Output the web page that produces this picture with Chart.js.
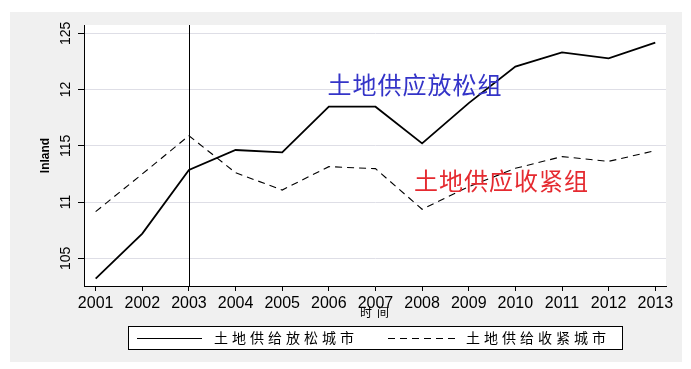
<!DOCTYPE html>
<html>
<head>
<meta charset="utf-8">
<script src="https://cdn.jsdelivr.net/npm/chart.js@4.4.0/dist/chart.umd.min.js"></script>
<style>
  html, body { margin: 0; padding: 0; background: #fff; }
  #wrap { width: 691px; height: 369px; }
</style>
</head>
<body>
<div id="wrap"><canvas id="c" width="691" height="369"></canvas></div>
<script>
// data
const years = [2001, 2002, 2003, 2004, 2005, 2006, 2007, 2008, 2009, 2010, 2011, 2012, 2013];
const looseCities = [10.32, 10.72, 11.285, 11.463, 11.442, 11.848, 11.848, 11.522, 11.88, 12.204, 12.331, 12.278, 12.417];
const tightCities = [10.915, 11.25, 11.59, 11.261, 11.107, 11.315, 11.297, 10.936, 11.137, 11.30, 11.404, 11.362, 11.457];
const yTickValues = [10.5, 11, 11.5, 12, 12.5];
const yTickLabels = ['105', '11', '115', '12', '125'];
const seriesNames = ['土地供给放松城市', '土地供给收紧城市'];
const noteTexts = ['土地供应放松组', '土地供应收紧组'];
const xTitle = '时间';
const yTitle = 'lnland';
const policyYear = 2003;

const cjk = '"Noto Sans CJK SC", sans-serif';

// background, vertical line, labels, legend
const decor = {
    id: 'decor',
    beforeDraw(chart) {
        const { ctx, chartArea: a } = chart;
        ctx.save();
        ctx.fillStyle = '#f0f0f0';
        ctx.fillRect(10, 12, 672, 350);
        ctx.fillStyle = '#ffffff';
        ctx.fillRect(a.left, a.top, a.right - a.left, a.bottom - a.top);
        ctx.restore();
    },
    afterDatasetsDraw(chart) {
        const { ctx, chartArea: a, scales: { x, y } } = chart;
        ctx.save();

        // policy year line
        const px = Math.round(x.getPixelForValue(policyYear)) + 0.5;
        ctx.strokeStyle = '#000';
        ctx.lineWidth = 1;
        ctx.beginPath();
        ctx.moveTo(px, a.top);
        ctx.lineTo(px, a.bottom);
        ctx.stroke();

        // group notes
        ctx.font = '24px ' + cjk;
        ctx.letterSpacing = '1px';
        ctx.textAlign = 'center';
        ctx.textBaseline = 'middle';
        ctx.fillStyle = '#3434c8';
        ctx.fillText(noteTexts[0], x.getPixelForValue(2007.85), y.getPixelForValue(12.04));
        ctx.fillStyle = '#e52a30';
        ctx.fillText(noteTexts[1], x.getPixelForValue(2009.7), y.getPixelForValue(11.185));
        ctx.letterSpacing = '0px';

        // y tick labels, rotated
        ctx.fillStyle = '#000';
        ctx.font = '14px "Liberation Sans", Arial, sans-serif';
        yTickValues.forEach((v, i) => {
            ctx.save();
            ctx.translate(66, y.getPixelForValue(v));
            ctx.rotate(-Math.PI / 2);
            ctx.fillText(yTickLabels[i], 0, 0);
            ctx.restore();
        });

        // y title
        ctx.save();
        ctx.font = 'bold 12px "Liberation Sans", Arial, sans-serif';
        ctx.translate(46, (a.top + a.bottom) / 2);
        ctx.rotate(-Math.PI / 2);
        ctx.fillText(yTitle, 0, 0);
        ctx.restore();

        // x title
        ctx.font = '12px ' + cjk;
        ctx.letterSpacing = '5px';
        ctx.fillText(xTitle, (a.left + a.right) / 2 + 2, 312);

        // legend
        ctx.letterSpacing = '0px';
        ctx.fillStyle = '#fff';
        ctx.fillRect(128.5, 326.5, 494, 23);
        ctx.strokeStyle = '#000';
        ctx.lineWidth = 1;
        ctx.strokeRect(128.5, 326.5, 494, 23);

        const ly = 338;
        const items = [
            { x0: 137, x1: 202, tx: 214 },
            { x0: 388, x1: 456, tx: 466 }
        ];
        chart.data.datasets.forEach((ds, i) => {
            const it = items[i];
            ctx.strokeStyle = ds.borderColor;
            ctx.lineWidth = 1.2;
            ctx.setLineDash(ds.borderDash || []);
            ctx.beginPath();
            ctx.moveTo(it.x0, ly + 0.5);
            ctx.lineTo(it.x1, ly + 0.5);
            ctx.stroke();
            ctx.setLineDash([]);
            ctx.fillStyle = '#000';
            ctx.font = '14px ' + cjk;
            ctx.letterSpacing = '4px';
            ctx.textAlign = 'left';
            ctx.fillText(seriesNames[i], it.tx, ly);
        });
        ctx.restore();
    }
};

new Chart(document.getElementById('c'), {
    type: 'line',
    data: {
        datasets: [
            {
                label: seriesNames[0],
                data: years.map((yr, i) => ({ x: yr, y: looseCities[i] })),
                borderColor: '#000',
                borderWidth: 1.8,
                pointRadius: 0,
                tension: 0,
                fill: false
            },
            {
                label: seriesNames[1],
                data: years.map((yr, i) => ({ x: yr, y: tightCities[i] })),
                borderColor: '#000',
                borderWidth: 1.1,
                borderDash: [7, 5],
                pointRadius: 0,
                tension: 0,
                fill: false
            }
        ]
    },
    options: {
        responsive: false,
        animation: false,
        layout: { padding: { left: 0, right: 25, top: 25, bottom: 60 } },
        plugins: {
            legend: { display: false },
            tooltip: { enabled: false }
        },
        scales: {
            x: {
                type: 'linear',
                min: 2000.75,
                max: 2013.23,
                afterBuildTicks: s => { s.ticks = years.map(v => ({ value: v })); },
                afterFit: s => { s.height = 23; },
                grid: { drawOnChartArea: false, drawTicks: true, tickLength: 5, tickColor: '#000' },
                border: { display: true, color: '#000', width: 1 },
                ticks: {
                    color: '#000',
                    padding: 3,
                    maxRotation: 0,
                    autoSkip: false,
                    font: { family: '"Liberation Sans", Arial, sans-serif', size: 16 },
                    callback: v => String(v)
                }
            },
            y: {
                type: 'linear',
                min: 10.254,
                max: 12.574,
                afterBuildTicks: s => { s.ticks = yTickValues.map(v => ({ value: v })); },
                afterFit: s => { s.width = 84; },
                grid: { color: '#dedee6', lineWidth: 1, drawTicks: true, tickLength: 6, tickColor: '#000' },
                border: { display: true, color: '#000', width: 1 },
                ticks: { display: false }
            }
        }
    },
    plugins: [decor]
});
</script>
</body>
</html>
